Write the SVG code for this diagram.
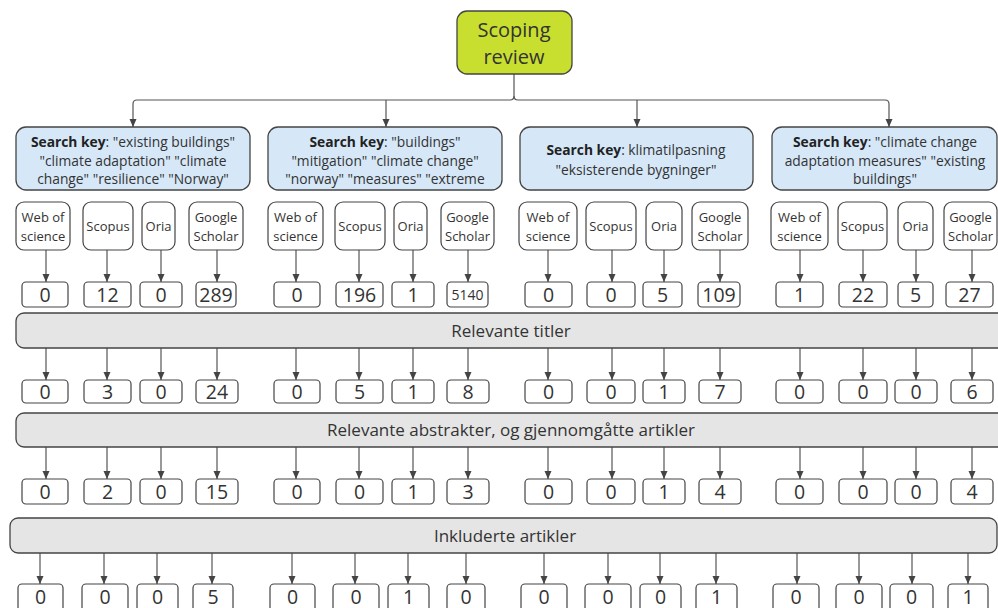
<svg xmlns="http://www.w3.org/2000/svg" width="998" height="608" viewBox="0 0 998 608">
<style>
text{font-family:"Open Sans","Noto Sans","Liberation Sans",sans-serif;fill:#333;text-anchor:middle}
.root rect{fill:#c8df2f;stroke:#444;stroke-width:1.3}
.key rect{fill:#d6e8f8;stroke:#444;stroke-width:1.3}
.db rect{fill:#fff;stroke:#444;stroke-width:1.2}
.num rect{fill:#fff;stroke:#444;stroke-width:1.2}
.bar rect{fill:#e5e5e5;stroke:#444;stroke-width:1.3}
.t20{font-size:20px}
.t13{font-size:13.8px}
.t12{font-size:13px}
.t18{font-size:19.5px}
.t14{font-size:14px}
.t16{font-size:17px}
.conn path{fill:none;stroke:#555;stroke-width:1.2}
</style>
<defs>
<marker id="ah" markerUnits="userSpaceOnUse" markerWidth="8" markerHeight="8" refX="8" refY="4" orient="auto">
<path d="M0,0.5 L8,4 L0,7.5 z" fill="#444"/>
</marker>
</defs>
<rect width="998" height="608" fill="#fff"/>

<g id="connectors" class="conn">
<path d="M514,74 V96 Q514,100 510,100 H137 Q133,100 133,104 V127" marker-end="url(#ah)"/>
<path d="M514,96 Q514,100 518,100 H885 Q889,100 889,104 V127" marker-end="url(#ah)"/>
<path d="M386,100 V127" marker-end="url(#ah)"/>
<path d="M637,100 V127" marker-end="url(#ah)"/>
<path d="M46,250 V282" marker-end="url(#ah)"/><path d="M107,250 V282" marker-end="url(#ah)"/><path d="M161,250 V282" marker-end="url(#ah)"/><path d="M217,250 V282" marker-end="url(#ah)"/>
<path d="M296,250 V282" marker-end="url(#ah)"/><path d="M359,250 V282" marker-end="url(#ah)"/><path d="M413,250 V282" marker-end="url(#ah)"/><path d="M468,250 V282" marker-end="url(#ah)"/>
<path d="M548,250 V282" marker-end="url(#ah)"/><path d="M612,250 V282" marker-end="url(#ah)"/><path d="M664,250 V282" marker-end="url(#ah)"/><path d="M720,250 V282" marker-end="url(#ah)"/>
<path d="M800,250 V282" marker-end="url(#ah)"/><path d="M863,250 V282" marker-end="url(#ah)"/><path d="M916,250 V282" marker-end="url(#ah)"/><path d="M972,250 V282" marker-end="url(#ah)"/>
<path d="M46,348 V380" marker-end="url(#ah)"/><path d="M107,348 V380" marker-end="url(#ah)"/><path d="M161,348 V380" marker-end="url(#ah)"/><path d="M217,348 V380" marker-end="url(#ah)"/>
<path d="M296,348 V380" marker-end="url(#ah)"/><path d="M359,348 V380" marker-end="url(#ah)"/><path d="M413,348 V380" marker-end="url(#ah)"/><path d="M468,348 V380" marker-end="url(#ah)"/>
<path d="M548,348 V380" marker-end="url(#ah)"/><path d="M612,348 V380" marker-end="url(#ah)"/><path d="M664,348 V380" marker-end="url(#ah)"/><path d="M720,348 V380" marker-end="url(#ah)"/>
<path d="M800,348 V380" marker-end="url(#ah)"/><path d="M863,348 V380" marker-end="url(#ah)"/><path d="M916,348 V380" marker-end="url(#ah)"/><path d="M972,348 V380" marker-end="url(#ah)"/>
<path d="M46,447 V479" marker-end="url(#ah)"/><path d="M107,447 V479" marker-end="url(#ah)"/><path d="M161,447 V479" marker-end="url(#ah)"/><path d="M217,447 V479" marker-end="url(#ah)"/>
<path d="M296,447 V479" marker-end="url(#ah)"/><path d="M359,447 V479" marker-end="url(#ah)"/><path d="M413,447 V479" marker-end="url(#ah)"/><path d="M468,447 V479" marker-end="url(#ah)"/>
<path d="M548,447 V479" marker-end="url(#ah)"/><path d="M612,447 V479" marker-end="url(#ah)"/><path d="M664,447 V479" marker-end="url(#ah)"/><path d="M720,447 V479" marker-end="url(#ah)"/>
<path d="M800,447 V479" marker-end="url(#ah)"/><path d="M863,447 V479" marker-end="url(#ah)"/><path d="M916,447 V479" marker-end="url(#ah)"/><path d="M972,447 V479" marker-end="url(#ah)"/>
<path d="M40,553 V584" marker-end="url(#ah)"/><path d="M104,553 V584" marker-end="url(#ah)"/><path d="M157,553 V584" marker-end="url(#ah)"/><path d="M212,553 V584" marker-end="url(#ah)"/>
<path d="M292,553 V584" marker-end="url(#ah)"/><path d="M355,553 V584" marker-end="url(#ah)"/><path d="M408,553 V584" marker-end="url(#ah)"/><path d="M466,553 V584" marker-end="url(#ah)"/>
<path d="M544,553 V584" marker-end="url(#ah)"/><path d="M608,553 V584" marker-end="url(#ah)"/><path d="M660,553 V584" marker-end="url(#ah)"/><path d="M716,553 V584" marker-end="url(#ah)"/>
<path d="M797,553 V584" marker-end="url(#ah)"/><path d="M859,553 V584" marker-end="url(#ah)"/><path d="M912,553 V584" marker-end="url(#ah)"/><path d="M968,553 V584" marker-end="url(#ah)"/>
</g>

<g id="scoping-review" class="root">
<rect x="457" y="11" width="115" height="63" rx="10"/>
<text class="t20" x="514" y="37">Scoping</text>
<text class="t20" x="514" y="64">review</text>
</g>

<g id="key1" class="key">
<rect x="16" y="127" width="234" height="63" rx="10"/>
<text class="t13" x="133" y="147"><tspan font-weight="bold" fill="#222">Search key</tspan>: "existing buildings"</text>
<text class="t13" x="133" y="166">"climate adaptation" "climate</text>
<text class="t13" x="133" y="184">change" "resilience" "Norway"</text>
</g>
<g id="key2" class="key">
<rect x="268" y="127" width="234" height="63" rx="10"/>
<text class="t13" x="385" y="147"><tspan font-weight="bold" fill="#222">Search key</tspan>: "buildings"</text>
<text class="t13" x="385" y="166">"mitigation" "climate change"</text>
<text class="t13" x="385" y="184">"norway" "measures" "extreme</text>
</g>
<g id="key3" class="key">
<rect x="520" y="127" width="233" height="63" rx="10"/>
<text class="t13" x="636" y="155"><tspan font-weight="bold" fill="#222">Search key</tspan>: klimatilpasning</text>
<text class="t13" x="636" y="175">"eksisterende bygninger"</text>
</g>
<g id="key4" class="key">
<rect x="772" y="127" width="225" height="63" rx="10"/>
<text class="t13" x="885" y="147"><tspan font-weight="bold" fill="#222">Search key</tspan>: "climate change</text>
<text class="t13" x="885" y="166">adaptation measures" "existing</text>
<text class="t13" x="885" y="184">buildings"</text>
</g>

<g id="db-g1-wos" class="db"><rect x="16" y="202" width="54" height="48" rx="8"/><text class="t12" x="43" y="222">Web of</text><text class="t12" x="43" y="241">science</text></g>
<g id="db-g1-scopus" class="db"><rect x="83" y="202" width="50" height="48" rx="8"/><text class="t12" x="108" y="231">Scopus</text></g>
<g id="db-g1-oria" class="db"><rect x="142" y="202" width="33" height="48" rx="8"/><text class="t12" x="158.5" y="231">Oria</text></g>
<g id="db-g1-gs" class="db"><rect x="189" y="202" width="54" height="48" rx="8"/><text class="t12" x="216" y="222">Google</text><text class="t12" x="216" y="241">Scholar</text></g>

<g id="db-g2-wos" class="db"><rect x="268" y="202" width="55" height="48" rx="8"/><text class="t12" x="295.5" y="222">Web of</text><text class="t12" x="295.5" y="241">science</text></g>
<g id="db-g2-scopus" class="db"><rect x="335" y="202" width="50" height="48" rx="8"/><text class="t12" x="360" y="231">Scopus</text></g>
<g id="db-g2-oria" class="db"><rect x="394" y="202" width="33" height="48" rx="8"/><text class="t12" x="410.5" y="231">Oria</text></g>
<g id="db-g2-gs" class="db"><rect x="441" y="202" width="53" height="48" rx="8"/><text class="t12" x="467.5" y="222">Google</text><text class="t12" x="467.5" y="241">Scholar</text></g>

<g id="db-g3-wos" class="db"><rect x="519" y="202" width="58" height="48" rx="8"/><text class="t12" x="548" y="222">Web of</text><text class="t12" x="548" y="241">science</text></g>
<g id="db-g3-scopus" class="db"><rect x="586" y="202" width="50" height="48" rx="8"/><text class="t12" x="611" y="231">Scopus</text></g>
<g id="db-g3-oria" class="db"><rect x="646" y="202" width="36" height="48" rx="8"/><text class="t12" x="664" y="231">Oria</text></g>
<g id="db-g3-gs" class="db"><rect x="692" y="202" width="56" height="48" rx="8"/><text class="t12" x="720" y="222">Google</text><text class="t12" x="720" y="241">Scholar</text></g>

<g id="db-g4-wos" class="db"><rect x="771" y="202" width="57" height="48" rx="8"/><text class="t12" x="799.5" y="222">Web of</text><text class="t12" x="799.5" y="241">science</text></g>
<g id="db-g4-scopus" class="db"><rect x="838" y="202" width="49" height="48" rx="8"/><text class="t12" x="862.5" y="231">Scopus</text></g>
<g id="db-g4-oria" class="db"><rect x="898" y="202" width="35" height="48" rx="8"/><text class="t12" x="915.5" y="231">Oria</text></g>
<g id="db-g4-gs" class="db"><rect x="944" y="202" width="53" height="48" rx="8"/><text class="t12" x="970.5" y="222">Google</text><text class="t12" x="970.5" y="241">Scholar</text></g>

<g id="r1-g1" class="num">
<rect x="22" y="282" width="46" height="25" rx="4"/><text class="t18" x="45" y="302">0</text>
<rect x="84" y="282" width="47" height="25" rx="4"/><text class="t18" x="107.5" y="302">12</text>
<rect x="140" y="282" width="42" height="25" rx="4"/><text class="t18" x="161" y="302">0</text>
<rect x="196" y="282" width="40" height="25" rx="4"/><text class="t18" x="216" y="302">289</text>
</g>
<g id="r1-g2" class="num">
<rect x="274" y="282" width="46" height="25" rx="4"/><text class="t18" x="297" y="302">0</text>
<rect x="336" y="282" width="47" height="25" rx="4"/><text class="t18" x="359.5" y="302">196</text>
<rect x="392" y="282" width="42" height="25" rx="4"/><text class="t18" x="413" y="302">1</text>
<rect x="447" y="282" width="41" height="25" rx="4"/><text class="t14" x="467.5" y="300">5140</text>
</g>
<g id="r1-g3" class="num">
<rect x="525" y="282" width="47" height="25" rx="4"/><text class="t18" x="548.5" y="302">0</text>
<rect x="587" y="282" width="48" height="25" rx="4"/><text class="t18" x="611" y="302">0</text>
<rect x="643" y="282" width="39" height="25" rx="4"/><text class="t18" x="662.5" y="302">5</text>
<rect x="698" y="282" width="42" height="25" rx="4"/><text class="t18" x="719" y="302">109</text>
</g>
<g id="r1-g4" class="num">
<rect x="776" y="282" width="47" height="25" rx="4"/><text class="t18" x="799.5" y="302">1</text>
<rect x="839" y="282" width="48" height="25" rx="4"/><text class="t18" x="863" y="302">22</text>
<rect x="898" y="282" width="35" height="25" rx="4"/><text class="t18" x="915.5" y="302">5</text>
<rect x="946" y="282" width="47" height="25" rx="4"/><text class="t18" x="969.5" y="302">27</text>
</g>

<g id="bar-titler" class="bar">
<rect x="16" y="313" width="994" height="35" rx="8"/>
<text class="t16" x="511" y="337">Relevante titler</text>
</g>

<g id="r2-g1" class="num">
<rect x="22" y="380" width="46" height="23" rx="4"/><text class="t18" x="45" y="398.5">0</text>
<rect x="84" y="380" width="47" height="23" rx="4"/><text class="t18" x="107.5" y="398.5">3</text>
<rect x="140" y="380" width="42" height="23" rx="4"/><text class="t18" x="161" y="398.5">0</text>
<rect x="196" y="380" width="42" height="23" rx="4"/><text class="t18" x="217" y="398.5">24</text>
</g>
<g id="r2-g2" class="num">
<rect x="274" y="380" width="46" height="23" rx="4"/><text class="t18" x="297" y="398.5">0</text>
<rect x="336" y="380" width="47" height="23" rx="4"/><text class="t18" x="359.5" y="398.5">5</text>
<rect x="392" y="380" width="42" height="23" rx="4"/><text class="t18" x="413" y="398.5">1</text>
<rect x="447" y="380" width="42" height="23" rx="4"/><text class="t18" x="468" y="398.5">8</text>
</g>
<g id="r2-g3" class="num">
<rect x="525" y="380" width="47" height="23" rx="4"/><text class="t18" x="548.5" y="398.5">0</text>
<rect x="587" y="380" width="48" height="23" rx="4"/><text class="t18" x="611" y="398.5">0</text>
<rect x="643" y="380" width="42" height="23" rx="4"/><text class="t18" x="664" y="398.5">1</text>
<rect x="699" y="380" width="42" height="23" rx="4"/><text class="t18" x="720" y="398.5">7</text>
</g>
<g id="r2-g4" class="num">
<rect x="776" y="380" width="47" height="23" rx="4"/><text class="t18" x="799.5" y="398.5">0</text>
<rect x="839" y="380" width="48" height="23" rx="4"/><text class="t18" x="863" y="398.5">0</text>
<rect x="895" y="380" width="42" height="23" rx="4"/><text class="t18" x="916" y="398.5">0</text>
<rect x="951" y="380" width="42" height="23" rx="4"/><text class="t18" x="972" y="398.5">6</text>
</g>

<g id="bar-abstrakter" class="bar">
<rect x="16" y="413" width="994" height="34" rx="8"/>
<text class="t16" x="511" y="436">Relevante abstrakter, og gjennomgåtte artikler</text>
</g>

<g id="r3-g1" class="num">
<rect x="22" y="479" width="46" height="25" rx="4"/><text class="t18" x="45" y="498.5">0</text>
<rect x="84" y="479" width="47" height="25" rx="4"/><text class="t18" x="107.5" y="498.5">2</text>
<rect x="140" y="479" width="42" height="25" rx="4"/><text class="t18" x="161" y="498.5">0</text>
<rect x="196" y="479" width="42" height="25" rx="4"/><text class="t18" x="217" y="498.5">15</text>
</g>
<g id="r3-g2" class="num">
<rect x="274" y="479" width="46" height="25" rx="4"/><text class="t18" x="297" y="498.5">0</text>
<rect x="336" y="479" width="47" height="25" rx="4"/><text class="t18" x="359.5" y="498.5">0</text>
<rect x="392" y="479" width="42" height="25" rx="4"/><text class="t18" x="413" y="498.5">1</text>
<rect x="447" y="479" width="42" height="25" rx="4"/><text class="t18" x="468" y="498.5">3</text>
</g>
<g id="r3-g3" class="num">
<rect x="525" y="479" width="47" height="25" rx="4"/><text class="t18" x="548.5" y="498.5">0</text>
<rect x="587" y="479" width="48" height="25" rx="4"/><text class="t18" x="611" y="498.5">0</text>
<rect x="643" y="479" width="42" height="25" rx="4"/><text class="t18" x="664" y="498.5">1</text>
<rect x="699" y="479" width="42" height="25" rx="4"/><text class="t18" x="720" y="498.5">4</text>
</g>
<g id="r3-g4" class="num">
<rect x="776" y="479" width="47" height="25" rx="4"/><text class="t18" x="799.5" y="498.5">0</text>
<rect x="839" y="479" width="48" height="25" rx="4"/><text class="t18" x="863" y="498.5">0</text>
<rect x="895" y="479" width="42" height="25" rx="4"/><text class="t18" x="916" y="498.5">0</text>
<rect x="951" y="479" width="42" height="25" rx="4"/><text class="t18" x="972" y="498.5">4</text>
</g>

<g id="bar-inkluderte" class="bar">
<rect x="10" y="518" width="987" height="35" rx="8"/>
<text class="t16" x="505" y="542">Inkluderte artikler</text>
</g>

<g id="r4-g1" class="num">
<rect x="18" y="584" width="45" height="30" rx="4"/><text class="t18" x="40.5" y="604">0</text>
<rect x="82" y="584" width="46" height="30" rx="4"/><text class="t18" x="105" y="604">0</text>
<rect x="137" y="584" width="41" height="30" rx="4"/><text class="t18" x="157.5" y="604">0</text>
<rect x="193" y="584" width="40" height="30" rx="4"/><text class="t18" x="213" y="604">5</text>
</g>
<g id="r4-g2" class="num">
<rect x="270" y="584" width="45" height="30" rx="4"/><text class="t18" x="292.5" y="604">0</text>
<rect x="333" y="584" width="46" height="30" rx="4"/><text class="t18" x="356" y="604">0</text>
<rect x="388" y="584" width="41" height="30" rx="4"/><text class="t18" x="408.5" y="604">1</text>
<rect x="447" y="584" width="38" height="30" rx="4"/><text class="t18" x="466" y="604">0</text>
</g>
<g id="r4-g3" class="num">
<rect x="521" y="584" width="46" height="30" rx="4"/><text class="t18" x="544" y="604">0</text>
<rect x="585" y="584" width="46" height="30" rx="4"/><text class="t18" x="608" y="604">0</text>
<rect x="640" y="584" width="41" height="30" rx="4"/><text class="t18" x="660.5" y="604">0</text>
<rect x="696" y="584" width="41" height="30" rx="4"/><text class="t18" x="716.5" y="604">1</text>
</g>
<g id="r4-g4" class="num">
<rect x="773" y="584" width="46" height="30" rx="4"/><text class="t18" x="796" y="604">0</text>
<rect x="836" y="584" width="46" height="30" rx="4"/><text class="t18" x="859" y="604">0</text>
<rect x="890" y="584" width="43" height="30" rx="4"/><text class="t18" x="911.5" y="604">0</text>
<rect x="948" y="584" width="40" height="30" rx="4"/><text class="t18" x="968" y="604">1</text>
</g>
</svg>
